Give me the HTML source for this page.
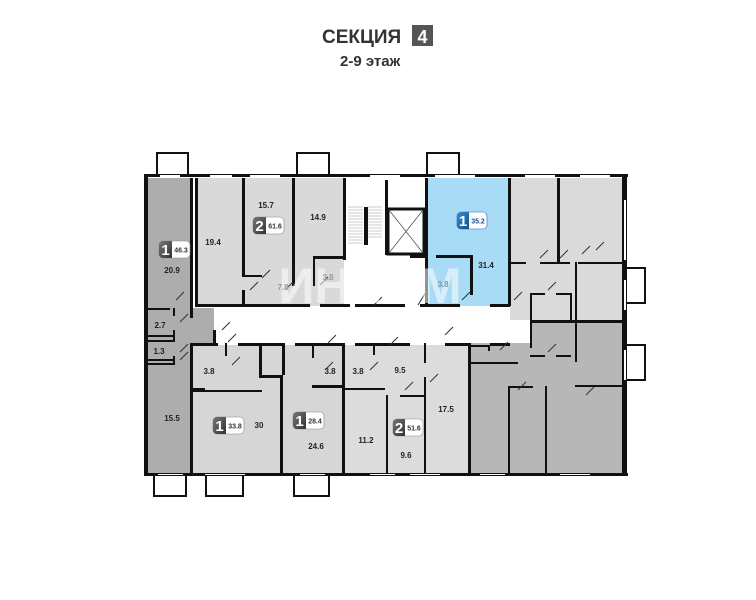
<!DOCTYPE html>
<html><head><meta charset="utf-8"><style>
html,body{margin:0;padding:0;background:#fff;}
svg{display:block;}
text{font-family:"Liberation Sans",sans-serif;font-weight:bold;}
</style></head><body>
<svg width="756" height="600" viewBox="0 0 756 600" xmlns="http://www.w3.org/2000/svg">
<defs>
<linearGradient id="g" x1="0" y1="0" x2="1" y2="1"><stop offset="0" stop-color="#777"/><stop offset="1" stop-color="#333"/></linearGradient>
<linearGradient id="gb" x1="0" y1="0" x2="1" y2="1"><stop offset="0" stop-color="#3a8fd0"/><stop offset="1" stop-color="#0d4f8f"/></linearGradient>
</defs>
<text x="322" y="43" font-size="19" fill="#333">СЕКЦИЯ</text>
<rect x="412" y="25" width="21" height="21" fill="#555"/>
<text x="422.5" y="43" font-size="18" fill="#fff" text-anchor="middle">4</text>
<text x="340" y="66" font-size="15" fill="#333">2-9 этаж</text>

<g fill="none" stroke="#111" stroke-width="2">
<path d="M157 175V153H188V175"/><path d="M297 175V153H329V175"/><path d="M427 175V153H459V175"/>
<path d="M626 268H645V303H626"/><path d="M626 345H645V380H626"/>
<path d="M154 475V496H186V475"/><path d="M206 475V496H243V475"/><path d="M294 475V496H329V475"/>
</g>

<rect x="147" y="177" width="478" height="297" fill="#fff"/>
<rect x="147" y="178" width="45" height="295" fill="#adadad"/>
<rect x="192" y="308" width="22" height="35" fill="#adadad"/>
<rect x="197" y="178" width="147" height="128" fill="#d9d9d9"/>
<rect x="428" y="178" width="80" height="128" fill="#a8dbf6"/>
<rect x="510" y="178" width="114" height="142" fill="#dadada"/>
<rect x="530" y="320" width="94" height="30" fill="#b7b7b7"/>
<rect x="468" y="343" width="156" height="130" fill="#b7b7b7"/>
<rect x="193" y="345" width="150" height="128" fill="#d6d6d6"/>
<rect x="345" y="345" width="123" height="128" fill="#dcdcdc"/>

<g stroke="#999" stroke-width="0.6">
<path d="M348 207H363M348 210H363M348 213H363M348 216H363M348 219H363M348 222H363M348 225H363M348 228H363M348 231H363M348 234H363M348 237H363M348 240H363M348 243H363"/>
<path d="M368 207H382M368 210H382M368 213H382M368 216H382M368 219H382M368 222H382M368 225H382M368 228H382M368 231H382M368 234H382M368 237H382"/>
</g>
<rect x="364" y="207" width="4" height="38" fill="#111"/>
<rect x="388" y="209" width="36" height="45" fill="none" stroke="#111" stroke-width="3"/>
<path d="M389 210L423 253M423 210L389 253" stroke="#555" stroke-width="0.8"/>

<g fill="#111">
<rect x="144" y="175" width="4" height="301"/>
<rect x="622" y="175" width="5" height="301"/>
<rect x="144" y="174" width="484" height="3"/>
<rect x="144" y="473" width="484" height="3"/>
<rect x="190" y="178" width="3" height="140"/>
<rect x="195" y="178" width="3" height="128"/>
<rect x="195" y="304" width="70" height="3"/>
<rect x="242" y="178" width="3" height="98"/>
<rect x="242" y="275" width="20" height="2"/>
<rect x="242" y="290" width="3" height="15"/>
<rect x="292" y="178" width="3" height="108"/>
<rect x="343" y="178" width="3" height="82"/>
<rect x="313" y="256" width="30" height="3"/>
<rect x="313" y="256" width="2" height="30"/>
<rect x="385" y="180" width="3" height="75"/>
<rect x="425" y="178" width="3" height="128"/>
<rect x="410" y="255" width="18" height="3"/>
<rect x="470" y="255" width="3" height="40"/>
<rect x="436" y="255" width="35" height="3"/>
<rect x="508" y="178" width="3" height="128"/>
<rect x="490" y="304" width="20" height="3"/>
<rect x="557" y="178" width="3" height="84"/>
<rect x="510" y="262" width="16" height="2"/>
<rect x="540" y="262" width="30" height="2"/>
<rect x="578" y="262" width="45" height="2"/>
<rect x="530" y="293" width="2" height="55"/>
<rect x="530" y="293" width="15" height="2"/>
<rect x="556" y="293" width="15" height="2"/>
<rect x="570" y="293" width="2" height="30"/>
<rect x="575" y="262" width="2" height="100"/>
<rect x="530" y="320" width="95" height="3"/>
<rect x="530" y="355" width="15" height="2"/>
<rect x="556" y="355" width="15" height="2"/>
<rect x="575" y="385" width="48" height="2"/>
<rect x="508" y="386" width="2" height="88"/>
<rect x="508" y="386" width="25" height="2"/>
<rect x="545" y="386" width="2" height="88"/>
<rect x="468" y="343" width="3" height="131"/>
<rect x="468" y="362" width="50" height="2"/>
<rect x="468" y="345" width="22" height="2"/>
<rect x="488" y="345" width="2" height="6"/>
<rect x="148" y="308" width="22" height="2"/>
<rect x="173" y="308" width="2" height="8"/>
<rect x="148" y="335" width="25" height="2"/>
<rect x="148" y="340" width="27" height="2"/>
<rect x="173" y="330" width="2" height="12"/>
<rect x="148" y="359" width="27" height="2"/>
<rect x="148" y="363" width="27" height="2"/>
<rect x="173" y="356" width="2" height="9"/>
<rect x="190" y="343" width="3" height="132"/>
<rect x="190" y="343" width="28" height="3"/>
<rect x="213" y="330" width="3" height="16"/>
<rect x="238" y="343" width="45" height="3"/>
<rect x="259" y="343" width="3" height="35"/>
<rect x="259" y="375" width="24" height="3"/>
<rect x="193" y="388" width="12" height="2"/>
<rect x="225" y="343" width="2" height="13"/>
<rect x="193" y="390" width="69" height="2"/>
<rect x="280" y="375" width="3" height="100"/>
<rect x="282" y="343" width="3" height="32"/>
<rect x="295" y="343" width="50" height="3"/>
<rect x="312" y="343" width="2" height="15"/>
<rect x="312" y="385" width="32" height="3"/>
<rect x="342" y="343" width="3" height="132"/>
<rect x="355" y="343" width="55" height="3"/>
<rect x="373" y="343" width="2" height="12"/>
<rect x="345" y="388" width="40" height="2"/>
<rect x="386" y="395" width="2" height="80"/>
<rect x="400" y="395" width="25" height="2"/>
<rect x="424" y="343" width="2" height="20"/>
<rect x="424" y="377" width="2" height="98"/>
<rect x="445" y="343" width="25" height="3"/>
<rect x="490" y="343" width="20" height="3"/>
<rect x="260" y="304" width="50" height="3"/>
<rect x="320" y="304" width="30" height="3"/>
<rect x="355" y="304" width="50" height="3"/>
<rect x="420" y="304" width="40" height="3"/>
</g>
<g fill="#fff">
<rect x="160" y="175" width="20" height="2"/><rect x="210" y="175" width="22" height="2"/><rect x="250" y="175" width="30" height="2"/>
<rect x="370" y="175" width="30" height="2"/><rect x="435" y="175" width="40" height="2"/><rect x="525" y="175" width="30" height="2"/><rect x="580" y="175" width="30" height="2"/>
<rect x="624" y="200" width="2" height="60"/><rect x="624" y="280" width="2" height="30"/><rect x="624" y="350" width="2" height="30"/>
<rect x="158" y="474" width="25" height="1"/><rect x="205" y="474" width="40" height="1"/><rect x="300" y="474" width="25" height="1"/><rect x="370" y="474" width="25" height="1"/><rect x="410" y="474" width="30" height="1"/><rect x="480" y="474" width="25" height="1"/><rect x="560" y="474" width="30" height="1"/>
</g>
<g stroke="#333" stroke-width="1">
<path d="M176 300L184 292M180 322L188 314M180 352L188 344M180 360L188 352M222 330L230 322M228 342L236 334M250 290L258 282M262 278L270 270M285 290L293 282M320 285L328 277M374 305L382 297M418 305L426 292M462 300L470 292M514 300L522 292M540 258L548 250M560 258L568 250M582 254L590 246M548 290L556 282M596 250L604 242M548 352L556 344M586 395L594 387M518 390L526 382M445 335L453 327M390 345L398 337M328 343L336 335M232 365L240 357M325 370L333 362M370 370L378 362M405 390L413 382M430 382L438 374M500 350L508 342"/>
</g>

<text x="370" y="303" font-size="50" fill="#fff" opacity="0.55" text-anchor="middle">ИНКОМ</text>
<text x="370" y="331" font-size="15" fill="#fff" opacity="0.7" text-anchor="middle" font-family="Liberation Serif">НЕДВИЖИМОСТЬ</text>

<g font-size="8" fill="#222" text-anchor="middle">
<text x="172" y="273">20.9</text><text x="213" y="245">19.4</text><text x="266" y="208">15.7</text><text x="318" y="220">14.9</text>
<text x="283" y="290" fill="#999">7.8</text><text x="328" y="280" fill="#999">3.8</text><text x="443" y="287" fill="#7a9aaa">3.8</text><text x="486" y="268">31.4</text>
<text x="160" y="328">2.7</text><text x="159" y="354">1.3</text><text x="172" y="421">15.5</text><text x="209" y="374">3.8</text><text x="259" y="428">30</text>
<text x="330" y="374">3.8</text><text x="316" y="449">24.6</text><text x="358" y="374">3.8</text><text x="400" y="373">9.5</text><text x="366" y="443">11.2</text><text x="446" y="412">17.5</text><text x="406" y="458">9.6</text>
</g>
<g font-size="7">
<g transform="translate(159,241)"><rect x="0" y="0" width="31" height="17" rx="4" fill="#fff" stroke="#888" stroke-width="0.6"/><path d="M4 0H13V17H4A4 4 0 0 1 0 13V4A4 4 0 0 1 4 0Z" fill="url(#g)"/><text x="6.5" y="14" font-size="15" fill="#fff" text-anchor="middle">1</text><text x="22" y="11.5" fill="#333" text-anchor="middle">46.3</text></g>
<g transform="translate(253,217)"><rect x="0" y="0" width="31" height="17" rx="4" fill="#fff" stroke="#888" stroke-width="0.6"/><path d="M4 0H13V17H4A4 4 0 0 1 0 13V4A4 4 0 0 1 4 0Z" fill="url(#g)"/><text x="6.5" y="14" font-size="15" fill="#fff" text-anchor="middle">2</text><text x="22" y="11.5" fill="#333" text-anchor="middle">61.6</text></g>
<g transform="translate(457,212)"><rect x="0" y="0" width="30" height="17" rx="4" fill="#fff" stroke="#1e6bb0" stroke-width="0.6"/><path d="M4 0H12V17H4A4 4 0 0 1 0 13V4A4 4 0 0 1 4 0Z" fill="url(#gb)"/><text x="6" y="14" font-size="15" fill="#fff" text-anchor="middle">1</text><text x="21" y="11.5" fill="#1e4f8f" text-anchor="middle">35.2</text></g>
<g transform="translate(213,417)"><rect x="0" y="0" width="31" height="17" rx="4" fill="#fff" stroke="#888" stroke-width="0.6"/><path d="M4 0H13V17H4A4 4 0 0 1 0 13V4A4 4 0 0 1 4 0Z" fill="url(#g)"/><text x="6.5" y="14" font-size="15" fill="#fff" text-anchor="middle">1</text><text x="22" y="11.5" fill="#333" text-anchor="middle">33.8</text></g>
<g transform="translate(293,412)"><rect x="0" y="0" width="31" height="17" rx="4" fill="#fff" stroke="#888" stroke-width="0.6"/><path d="M4 0H13V17H4A4 4 0 0 1 0 13V4A4 4 0 0 1 4 0Z" fill="url(#g)"/><text x="6.5" y="14" font-size="15" fill="#fff" text-anchor="middle">1</text><text x="22" y="11.5" fill="#333" text-anchor="middle">28.4</text></g>
<g transform="translate(393,419)"><rect x="0" y="0" width="30" height="17" rx="4" fill="#fff" stroke="#888" stroke-width="0.6"/><path d="M4 0H12V17H4A4 4 0 0 1 0 13V4A4 4 0 0 1 4 0Z" fill="url(#g)"/><text x="6" y="14" font-size="15" fill="#fff" text-anchor="middle">2</text><text x="21" y="11.5" fill="#333" text-anchor="middle">51.6</text></g>
</g>
</svg>
</body></html>
